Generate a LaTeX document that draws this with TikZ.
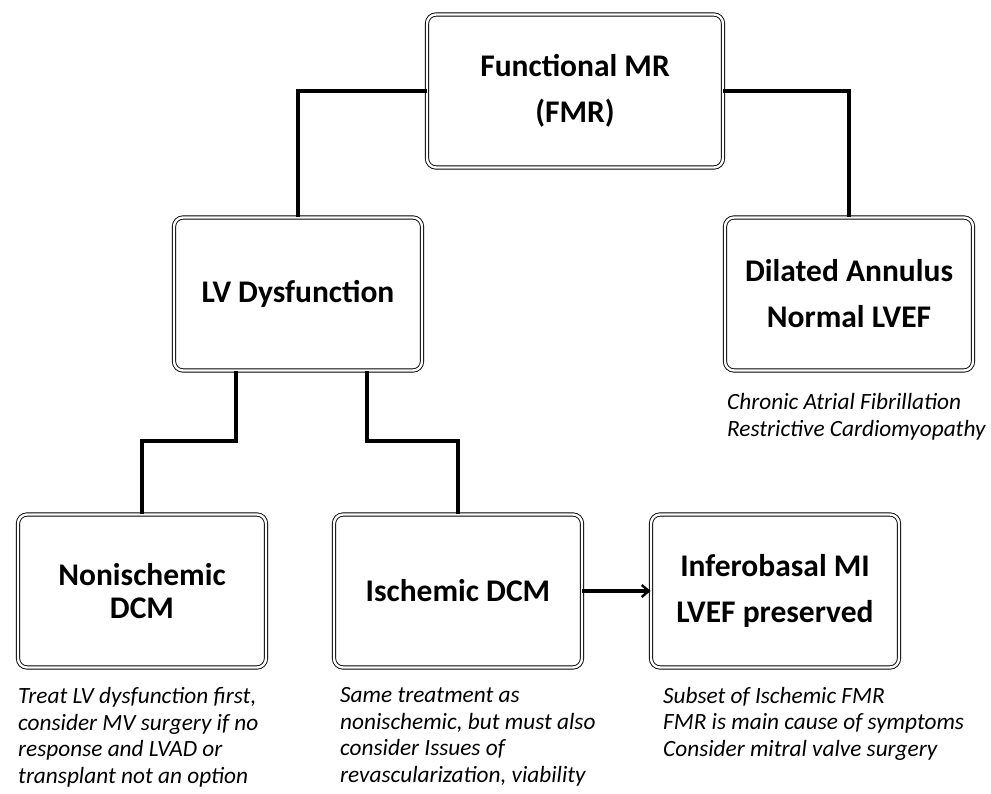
\documentclass[tikz,border=0pt]{standalone}
\usepackage{fontspec}
\setmainfont{Carlito}
\usetikzlibrary{arrows.meta}

\begin{document}
\begin{tikzpicture}[x=1pt,y=-1pt,
  box/.style={draw,double,line width=0.9pt,double distance=2.4pt,rounded corners=9pt,
    minimum width=248pt,minimum height=153pt,inner sep=0pt,align=center,
    font=\bfseries\fontsize{31.5}{46}\selectfont},
  note/.style={anchor=base west,inner sep=0pt,align=left,
    font=\itshape\fontsize{23.3}{26.5}\selectfont},
  link/.style={line width=3.4pt}]
\useasboundingbox (0,0) rectangle (991,794);
\node[box,minimum width=296pt] (fmr) at (575, 91) {Functional MR\\(FMR)};
\node[box] (lv) at (298, 294) {LV Dysfunction};
\node[box] (dil) at (849, 294) {Dilated Annulus\\Normal LVEF};
\node[box,font=\bfseries\fontsize{31.5}{33}\selectfont] (nonisch) at (142, 591) {Nonischemic\\DCM};
\node[box] (isch) at (458, 591) {Ischemic DCM};
\node[box] (infero) at (775, 591) {Inferobasal MI\\LVEF preserved};

% notes: base anchor sits on the last line
\node[note] (dilnote) at (727, 436) {Chronic Atrial Fibrillation\\Restrictive Cardiomyopathy};
\node[note] (nonnote) at (18, 783) {Treat LV dysfunction first,\\consider MV surgery if no\\response and LVAD or\\transplant not an option};
\node[note] (ischnote) at (340, 782) {Same treatment as\\nonischemic, but must also\\consider Issues of\\revascularization, viability};
\node[note] (infnote) at (663, 756) {Subset of Ischemic FMR\\FMR is main cause of symptoms\\Consider mitral valve surgery};

\draw[link] (fmr.west) -| (lv.north);
\draw[link] (fmr.east) -| (dil.north);
\draw[link] ([xshift=-62pt]lv.south) -- ++(0,70) -| (nonisch.north);
\draw[link] ([xshift=69pt]lv.south) -- ++(0,70) -| (isch.north);
\draw[link,-{Straight Barb[length=7pt,width=12pt,line width=2.4pt]}] (isch.east) -- (infero.west);
\end{tikzpicture}
\end{document}
